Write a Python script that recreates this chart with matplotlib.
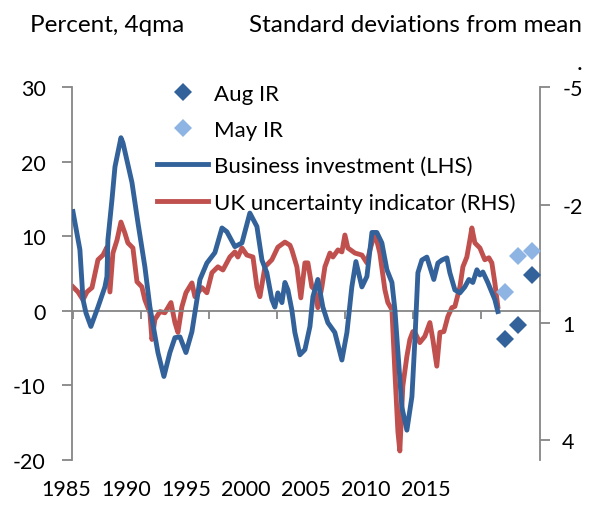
import matplotlib.pyplot as plt
import numpy as np

plt.rcParams["font.family"] = ["Lato", "DejaVu Sans"]
plt.rcParams["axes.unicode_minus"] = False

# Business investment, percent 4qma (LHS)
invest_years = [
    1985.00, 1985.51, 1985.74, 1985.96, 1986.32, 1986.84, 1987.35, 1987.50, 1987.57, 1987.87,
    1988.09, 1988.53, 1988.68, 1989.34, 1989.78, 1990.29, 1990.66, 1991.25, 1991.69, 1992.13,
    1992.50, 1992.87, 1993.31, 1993.75, 1994.12, 1994.34, 1994.85, 1995.44, 1995.96, 1996.32,
    1996.91, 1997.43, 1998.01, 1998.53, 1998.90, 1999.26, 1999.63, 1999.85, 2000.07, 2000.37,
    2000.59, 2000.81, 2001.10, 2001.32, 2001.69, 2002.06, 2002.43, 2002.65, 2003.01, 2003.38,
    2003.75, 2004.26, 2004.78, 2005.15, 2005.51, 2005.81, 2006.25, 2006.62, 2006.99, 2007.35,
    2007.72, 2008.09, 2008.46, 2008.68, 2009.19, 2009.56, 2009.93, 2010.15, 2010.37, 2010.66,
    2011.03, 2011.25, 2011.54, 2011.84, 2012.13, 2012.50, 2012.72, 2013.09, 2013.46, 2013.82,
    2014.12, 2014.41, 2014.71, 2014.93, 2015.15, 2015.51, 2016.03, 2016.25,
]
invest = [
    13.3, 8.2, 1.5, -0.3, -2.1, 0.5, 3.2, 4.6, 9.5, 14.9,
    19.3, 23.2, 22.5, 17.2, 11.8, 5.9, 0.5, -5.6, -8.8, -5.6,
    -3.6, -3.5, -5.6, -2.8, 1.5, 4.2, 6.4, 7.8, 11.1, 10.6,
    8.6, 9.1, 13.1, 11.3, 6.8, 5.1, 1.5, 0.5, 2.4, 1.1,
    3.8, 2.8, 0.1, -2.9, -5.9, -5.2, -2.1, 1.9, 4.2, 0.5,
    -1.6, -2.9, -6.6, -2.9, 3.2, 6.6, 3.2, 4.6, 10.5, 10.5,
    9.1, 5.5, 3.8, 0.1, -12.9, -16.0, -11.5, -3.9, 5.1, 6.8,
    7.2, 5.9, 4.2, 6.4, 6.8, 7.1, 5.1, 2.8, 2.4, 3.2,
    4.2, 3.8, 5.5, 4.8, 5.2, 3.8, 1.5, -0.1,
]

# UK uncertainty indicator, standard deviations from mean (RHS, inverted)
uncert_years = [
    1985.00, 1985.37, 1985.74, 1986.03, 1986.40, 1986.84, 1987.21, 1987.50, 1987.72, 1987.94,
    1988.24, 1988.53, 1988.82, 1989.04, 1989.41, 1989.71, 1990.07, 1990.29, 1990.66, 1990.81,
    1991.03, 1991.40, 1991.76, 1992.21, 1992.50, 1992.72, 1993.01, 1993.31, 1993.75, 1993.97,
    1994.19, 1994.49, 1994.85, 1995.22, 1995.66, 1996.03, 1996.54, 1996.91, 1997.13, 1997.43,
    1997.79, 1998.24, 1998.53, 1998.75, 1999.12, 1999.63, 2000.07, 2000.59, 2000.96, 2001.10,
    2001.47, 2001.76, 2002.06, 2002.28, 2002.57, 2002.79, 2003.01, 2003.31, 2003.53, 2003.90,
    2004.12, 2004.49, 2004.78, 2005.00, 2005.22, 2005.74, 2006.25, 2006.62, 2006.84, 2007.21,
    2007.57, 2007.94, 2008.16, 2008.46, 2008.68, 2008.90, 2009.04, 2009.26, 2009.56, 2009.78,
    2010.00, 2010.15, 2010.51, 2010.88, 2011.25, 2011.47, 2011.76, 2011.99, 2012.28, 2012.57,
    2012.87, 2013.09, 2013.46, 2013.68, 2013.97, 2014.19, 2014.34, 2014.56, 2014.93, 2015.29,
    2015.59, 2015.81, 2016.03, 2016.25,
]
uncert = [
    0.09, 0.22, 0.42, 0.22, 0.11, -0.60, -0.72, -0.92, 0.22, -0.77,
    -1.10, -1.56, -1.28, -1.03, -0.90, -0.04, 0.09, 0.42, 0.75, 1.43,
    0.92, 0.72, 0.75, 0.49, 1.00, 1.25, 0.60, 0.24, -0.01, 0.34,
    0.24, 0.11, 0.24, -0.27, -0.42, -0.34, -0.67, -0.80, -0.67, -0.90,
    -0.72, -0.67, 0.09, 0.34, -0.42, -0.60, -0.92, -1.05, -0.97, -0.85,
    -0.42, 0.37, -0.52, -0.52, 0.09, 0.16, 0.62, 0.09, -0.42, -0.77,
    -0.67, -0.85, -0.80, -1.23, -0.90, -0.77, -0.72, -0.52, -0.85, -1.28,
    -0.77, 0.16, 0.49, 0.67, 2.27, 3.78, 4.27, 2.62, 1.86, 1.43,
    1.23, 1.25, 1.51, 1.35, 1.00, 1.43, 2.11, 1.25, 1.23, 0.85,
    0.62, 0.59, 0.09, -0.42, -0.67, -1.10, -1.41, -1.03, -0.90, -0.60,
    -0.65, -0.52, -0.01, 0.59,
]

# Inflation Report projections (LHS)
proj_years = [2016.75, 2017.75, 2018.75]
aug_ir = [-3.8, -1.9, 4.8]
may_ir = [2.5, 7.3, 8.0]

year_labels = ["1985", "1990", "1995", "2000", "2005", "2010", "2015"]

blue = "#33629B"
red = "#C0504D"
light = "#8EB4E3"
grey = "#868686"
fs = 17.5
tfs = 15.5

fig = plt.figure(figsize=(5.89, 5.06), dpi=100)
ax = fig.add_axes([72 / 589, 1 - 461 / 506, 468 / 589, 373 / 506])
ax2 = ax.twinx()

l_inv, = ax.plot(invest_years, invest, color=blue, lw=3.5, solid_joinstyle="round",
                 label="Business investment (LHS)", zorder=3)
l_unc, = ax2.plot(uncert_years, uncert, color=red, lw=3.5, solid_joinstyle="round",
                  label="UK uncertainty indicator (RHS)", zorder=2)
m_aug, = ax.plot(proj_years, aug_ir, "D", color=blue, ms=9.5, mew=0, label="Aug IR", zorder=4)
m_may, = ax.plot(proj_years, may_ir, "D", color=light, ms=9.5, mew=0, label="May IR", zorder=4)

ax.set_zorder(ax2.get_zorder() + 1)
ax.patch.set_visible(False)

ax.set_xlim(1984.93, 2019.35)
ax.set_ylim(-20, 30)
ax.set_yticks(range(-20, 31, 10))
ax2.set_ylim(4.5, -5)
ax2.set_yticks([-5, -2, 1, 4])

ax.spines["top"].set_visible(False)
ax2.spines["top"].set_visible(False)
ax.spines["right"].set_visible(False)
ax2.spines["left"].set_visible(False)
ax2.spines["bottom"].set_visible(False)
ax.spines["bottom"].set_position(("data", 0))
for s in [ax.spines["left"], ax.spines["bottom"], ax2.spines["right"]]:
    s.set_color(grey)
    s.set_linewidth(1.3)

# tick marks every 5 years on the zero line, year labels along the bottom
ax.set_xticks(np.arange(1985, 2016, 5))
ax.set_xticklabels([])
ax.tick_params(axis="x", direction="out", length=6, width=1.3, color=grey)
ax.tick_params(axis="y", direction="out", length=7, width=1.3, color=grey,
               labelsize=tfs, pad=12)
ax2.tick_params(axis="y", direction="out", length=7, width=1.3, color=grey,
                labelsize=tfs, pad=9)

trans = ax.get_xaxis_transform()
for i, lab in enumerate(year_labels):
    ax.text(1984.5 + 4.41 * i, -0.078, lab, transform=trans, fontsize=tfs,
            ha="center", va="center", clip_on=False)

handles = [m_aug, m_may, l_inv, l_unc]
fig.legend(handles, [h.get_label() for h in handles], loc="upper left",
           bbox_to_anchor=(157 / 589, 1 - 85 / 506),
           frameon=False, fontsize=16, handlelength=2.3, handletextpad=0.25,
           labelspacing=0.72, borderpad=0, borderaxespad=0)

fig.text(30 / 589, 1 - 26 / 506, "Percent, 4qma", fontsize=fs, va="center", ha="left")
fig.text(582 / 589, 1 - 26 / 506, "Standard deviations from mean", fontsize=fs,
         va="center", ha="right")
fig.text(579 / 589, 1 - 64 / 506, ".", fontsize=fs, va="center", ha="center")

fig.savefig("out.png", dpi=100)
